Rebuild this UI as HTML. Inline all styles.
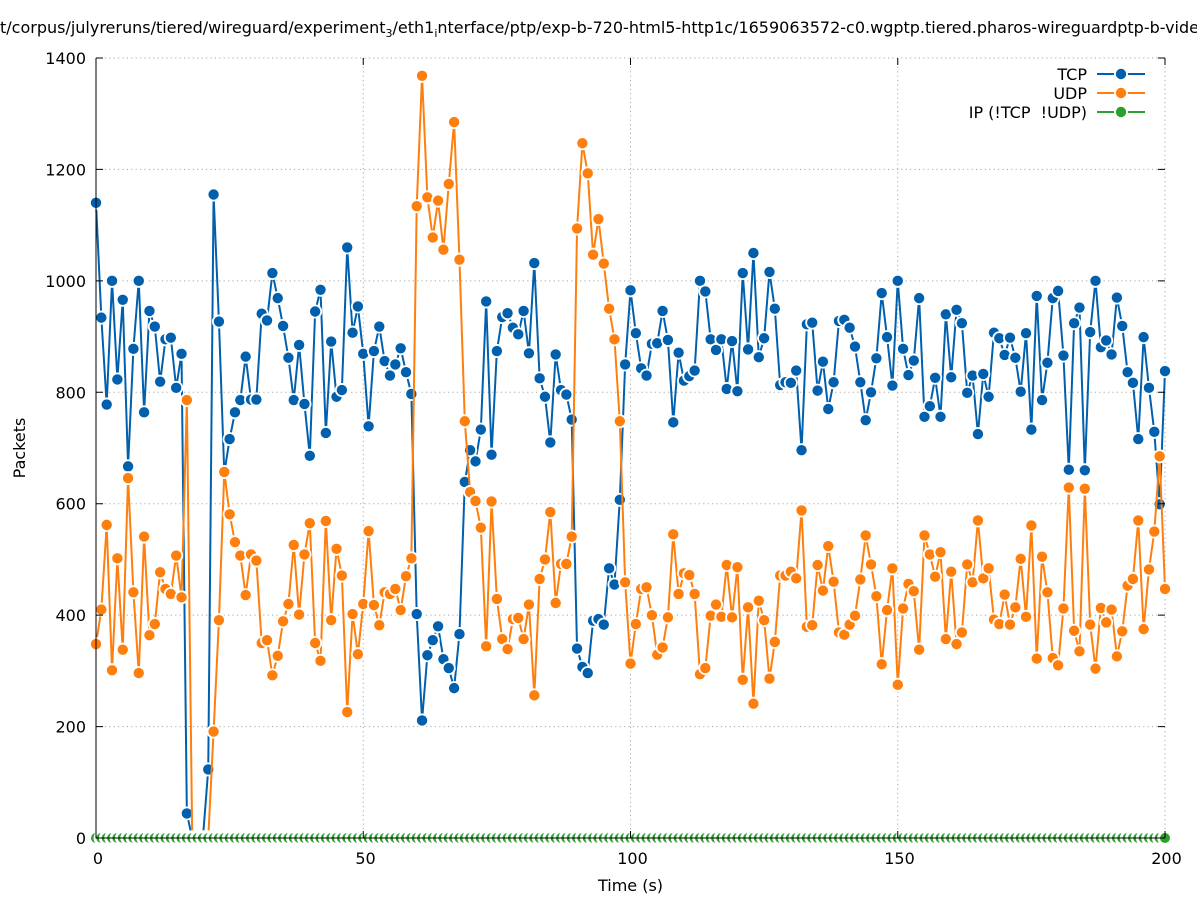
<!DOCTYPE html>
<html><head><meta charset="utf-8">
<style>
html,body{margin:0;padding:0;background:#fff}
svg{display:block}
text{font-family:"DejaVu Sans","Liberation Sans",sans-serif;font-size:16px;fill:#000}
</style></head>
<body>
<svg width="1197" height="900" viewBox="0 0 1197 900" xmlns="http://www.w3.org/2000/svg">
<defs>
<marker id="mT" markerUnits="userSpaceOnUse" overflow="visible" refX="0" refY="0" markerWidth="1" markerHeight="1" orient="0"><g transform="scale(0.187091,1.794872)"><circle r="7" fill="#fff"/><circle r="5.2" fill="#0060ad"/></g></marker>
<marker id="mU" markerUnits="userSpaceOnUse" overflow="visible" refX="0" refY="0" markerWidth="1" markerHeight="1" orient="0"><g transform="scale(0.187091,1.794872)"><circle r="7" fill="#fff"/><circle r="5.2" fill="#ff7f0e"/></g></marker>
<marker id="mI" markerUnits="userSpaceOnUse" overflow="visible" refX="0" refY="0" markerWidth="1" markerHeight="1" orient="0"><g transform="scale(0.187091,1.794872)"><circle r="7.8" fill="#fff"/><circle r="5" fill="#2ca02c"/></g></marker>
</defs>
<rect width="1197" height="900" fill="#fff"/>

<!-- grid -->
<g stroke="#a8a8a8" stroke-width="1" stroke-dasharray="1.2 3.2" fill="none">
<path d="M96 726.57H1165M96 615.14H1165M96 503.71H1165M96 392.29H1165M96 280.86H1165M96 169.43H1165M96 58H1165"/>
<path d="M363.25 58V838M630.5 58V838M897.75 58V838M1165 58V838"/>
</g>

<g transform="translate(96 838) scale(5.345 -0.557143)">
<polyline fill="none" stroke="#0060ad" stroke-width="2" vector-effect="non-scaling-stroke" stroke-linejoin="round" marker-start="url(#mT)" marker-mid="url(#mT)" marker-end="url(#mT)" points="0,1140 1,934 2,778 3,1000 4,823 5,966 6,667 7,878 8,1000 9,764 10,946 11,918 12,819 13,895 14,898 15,808 16,869 17,44 18,0 19,0 20,0 21,123 22,1155 23,927 24,655 25,716 26,764 27,786 28,864 29,787 30,787 31,941 32,929 33,1014 34,969 35,919 36,862 37,786 38,885 39,779 40,686 41,945 42,984 43,727 44,891 45,792 46,804 47,1060 48,907 49,954 50,869 51,739 52,874 53,918 54,856 55,830 56,850 57,879 58,836 59,797 60,402 61,211 62,328 63,355 64,380 65,321 66,305 67,269 68,366 69,639 70,696 71,676 72,733 73,963 74,688 75,874 76,935 77,942 78,916 79,904 80,946 81,870 82,1032 83,825 84,792 85,710 86,868 87,804 88,796 89,751 90,340 91,307 92,296 93,390 94,393 95,383 96,484 97,455 98,607 99,850 100,983 101,906 102,843 103,830 104,887 105,888 106,946 107,894 108,746 109,871 110,821 111,829 112,839 113,1000 114,981 115,895 116,876 117,895 118,806 119,892 120,802 121,1014 122,877 123,1050 124,863 125,897 126,1016 127,950 128,813 129,818 130,817 131,839 132,696 133,922 134,925 135,803 136,855 137,770 138,818 139,928 140,930 141,916 142,882 143,818 144,750 145,800 146,861 147,978 148,899 149,812 150,1000 151,878 152,831 153,857 154,969 155,756 156,775 157,826 158,756 159,940 160,827 161,948 162,924 163,799 164,830 165,725 166,833 167,792 168,907 169,897 170,867 171,898 172,862 173,801 174,906 175,733 176,973 177,786 178,853 179,969 180,982 181,866 182,661 183,924 184,952 185,660 186,908 187,1000 188,881 189,893 190,868 191,970 192,919 193,836 194,817 195,716 196,899 197,808 198,729 199,599 200,838"/>
<polyline fill="none" stroke="#ff7f0e" stroke-width="2" vector-effect="non-scaling-stroke" stroke-linejoin="round" marker-start="url(#mU)" marker-mid="url(#mU)" marker-end="url(#mU)" points="0,348 1,410 2,562 3,301 4,502 5,338 6,646 7,441 8,296 9,541 10,364 11,384 12,477 13,447 14,438 15,507 16,432 17,786 18,0 19,0 20,0 21,0 22,191 23,391 24,657 25,581 26,531 27,507 28,436 29,509 30,498 31,350 32,355 33,292 34,327 35,389 36,420 37,526 38,401 39,509 40,565 41,350 42,318 43,569 44,391 45,519 46,471 47,226 48,402 49,330 50,420 51,551 52,418 53,382 54,441 55,438 56,447 57,409 58,470 59,502 60,1134 61,1368 62,1150 63,1078 64,1144 65,1056 66,1174 67,1285 68,1038 69,748 70,621 71,605 72,557 73,344 74,604 75,429 76,357 77,339 78,393 79,395 80,357 81,419 82,256 83,465 84,500 85,585 86,422 87,492 88,492 89,541 90,1094 91,1247 92,1193 93,1047 94,1111 95,1031 96,950 97,895 98,748 99,459 100,313 101,384 102,447 103,450 104,400 105,329 106,342 107,396 108,545 109,438 110,475 111,472 112,438 113,294 114,305 115,399 116,419 117,397 118,490 119,396 120,486 121,284 122,414 123,241 124,426 125,391 126,286 127,352 128,471 129,471 130,478 131,466 132,588 133,379 134,382 135,490 136,444 137,524 138,460 139,369 140,365 141,383 142,399 143,464 144,543 145,491 146,434 147,312 148,409 149,484 150,275 151,412 152,456 153,443 154,338 155,543 156,509 157,469 158,513 159,357 160,478 161,348 162,369 163,491 164,459 165,570 166,466 167,484 168,392 169,384 170,437 171,383 172,414 173,501 174,397 175,561 176,322 177,505 178,441 179,323 180,310 181,412 182,629 183,372 184,335 185,627 186,383 187,304 188,413 189,387 190,410 191,326 192,371 193,453 194,465 195,570 196,375 197,482 198,550 199,685 200,447"/>
<polyline fill="none" stroke="#2ca02c" stroke-width="2" vector-effect="non-scaling-stroke" marker-start="url(#mI)" marker-mid="url(#mI)" marker-end="url(#mI)" points="0,0 1,0 2,0 3,0 4,0 5,0 6,0 7,0 8,0 9,0 10,0 11,0 12,0 13,0 14,0 15,0 16,0 17,0 18,0 19,0 20,0 21,0 22,0 23,0 24,0 25,0 26,0 27,0 28,0 29,0 30,0 31,0 32,0 33,0 34,0 35,0 36,0 37,0 38,0 39,0 40,0 41,0 42,0 43,0 44,0 45,0 46,0 47,0 48,0 49,0 50,0 51,0 52,0 53,0 54,0 55,0 56,0 57,0 58,0 59,0 60,0 61,0 62,0 63,0 64,0 65,0 66,0 67,0 68,0 69,0 70,0 71,0 72,0 73,0 74,0 75,0 76,0 77,0 78,0 79,0 80,0 81,0 82,0 83,0 84,0 85,0 86,0 87,0 88,0 89,0 90,0 91,0 92,0 93,0 94,0 95,0 96,0 97,0 98,0 99,0 100,0 101,0 102,0 103,0 104,0 105,0 106,0 107,0 108,0 109,0 110,0 111,0 112,0 113,0 114,0 115,0 116,0 117,0 118,0 119,0 120,0 121,0 122,0 123,0 124,0 125,0 126,0 127,0 128,0 129,0 130,0 131,0 132,0 133,0 134,0 135,0 136,0 137,0 138,0 139,0 140,0 141,0 142,0 143,0 144,0 145,0 146,0 147,0 148,0 149,0 150,0 151,0 152,0 153,0 154,0 155,0 156,0 157,0 158,0 159,0 160,0 161,0 162,0 163,0 164,0 165,0 166,0 167,0 168,0 169,0 170,0 171,0 172,0 173,0 174,0 175,0 176,0 177,0 178,0 179,0 180,0 181,0 182,0 183,0 184,0 185,0 186,0 187,0 188,0 189,0 190,0 191,0 192,0 193,0 194,0 195,0 196,0 197,0 198,0 199,0 200,0"/>
</g>

<!-- axes and ticks -->
<g stroke="#000" stroke-width="1" fill="none">
<path d="M96 58V838H1165"/>
<path d="M96 726.57h7M96 615.14h7M96 503.71h7M96 392.29h7M96 280.86h7M96 169.43h7M96 58h7"/>
<path d="M1165 726.57h-7M1165 615.14h-7M1165 503.71h-7M1165 392.29h-7M1165 280.86h-7M1165 169.43h-7M1165 58h-7"/>
<path d="M363.25 838v-7M630.5 838v-7M897.75 838v-7M1165 838v-7"/>
<path d="M96 58v7M363.25 58v7M630.5 58v7M897.75 58v7M1165 58v7"/>
</g>

<!-- y tick labels -->
<g text-anchor="end">
<text x="86" y="844">0</text>
<text x="86" y="732.6">200</text>
<text x="86" y="621.1">400</text>
<text x="86" y="509.7">600</text>
<text x="86" y="398.3">800</text>
<text x="86" y="286.9">1000</text>
<text x="86" y="175.4">1200</text>
<text x="86" y="64">1400</text>
</g>
<!-- x tick labels -->
<g text-anchor="middle">
<text x="98" y="864">0</text>
<text x="365.5" y="864">50</text>
<text x="632.5" y="864">100</text>
<text x="899.5" y="864">150</text>
<text x="1166.5" y="864">200</text>
</g>

<text x="630.5" y="891" text-anchor="middle">Time (s)</text>
<text transform="translate(25 448) rotate(-90)" text-anchor="middle">Packets</text>

<!-- title -->
<text x="0" y="33" textLength="1199" lengthAdjust="spacing">t/corpus/julyreruns/tiered/wireguard/experiment<tspan font-size="11" dy="4">3</tspan><tspan dy="-4">/eth1</tspan><tspan font-size="11" dy="4">i</tspan><tspan dy="-4">nterface/ptp/exp-b-720-html5-http1c/1659063572-c0.wgptp.tiered.pharos-wireguardptp-b-vide</tspan></text>

<!-- legend -->
<g text-anchor="end">
<text x="1087" y="80">TCP</text>
<text x="1087" y="99">UDP</text>
<text x="1087" y="118">IP (!TCP&#160;&#160;!UDP)</text>
</g>
<g stroke-width="2">
<line x1="1097" y1="74" x2="1145" y2="74" stroke="#0060ad"/>
<line x1="1097" y1="93" x2="1145" y2="93" stroke="#ff7f0e"/>
<line x1="1097" y1="112" x2="1145" y2="112" stroke="#2ca02c"/>
</g>
<circle cx="1121" cy="74" r="7" fill="#fff"/><circle cx="1121" cy="74" r="5.2" fill="#0060ad"/>
<circle cx="1121" cy="93" r="7" fill="#fff"/><circle cx="1121" cy="93" r="5.2" fill="#ff7f0e"/>
<circle cx="1121" cy="112" r="7" fill="#fff"/><circle cx="1121" cy="112" r="5.2" fill="#2ca02c"/>
</svg>
</body></html>
